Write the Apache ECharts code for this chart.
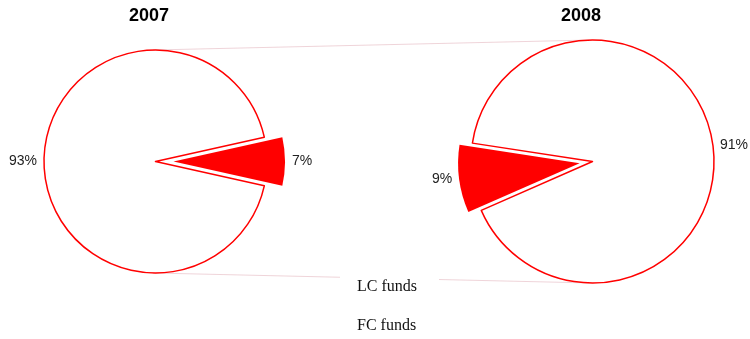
<!DOCTYPE html>
<html>
<head>
<meta charset="utf-8">
<script src="https://cdn.jsdelivr.net/npm/echarts@6/dist/echarts.min.js"></script>
<style>
  html, body { margin: 0; padding: 0; background: #fff; }
  #chart { width: 750px; height: 339px; }
</style>
</head>
<body>
<div id="chart"></div>
<script>
// Fund split by year
const years = ['2007', '2008'];
const categories = ['LC funds', 'FC funds'];
const share2007 = [93, 7];
const share2008 = [91, 9];

// Pie geometry (pixels)
const pieLayout = [
  { center: [155.5, 161.5], radius: 111.5, startAngle: 347.4, offset: 18, titleX: 149 },
  { center: [592.5, 161.5], radius: 121.5, startAngle: 171.3, offset: 13, titleX: 581 }
];
const shares = [share2007, share2008];
const sliceColors = ['#ffffff', '#ff0000'];
// Legend rows (top of each entry box)
const legendTops = [271, 310];

function buildData(values) {
  return categories.map((name, i) => ({
    name: name,
    value: values[i],
    selected: i === 1,
    itemStyle: i === 0
      ? { color: sliceColors[0], borderColor: '#ff0000', borderWidth: 1.5 }
      : { color: sliceColors[1], borderWidth: 0 }
  }));
}

// Common outer tangents joining the two pies
function tangentLines(a, b) {
  const [x1, y1] = a.center, [x2, y2] = b.center;
  const dx = x2 - x1, dy = y2 - y1;
  const d = Math.hypot(dx, dy);
  const ux = dx / d, uy = dy / d;
  const k = -(b.radius - a.radius) / d;
  const h = Math.sqrt(1 - k * k);
  const out = [];
  [-1, 1].forEach(s => {
    const nx = k * ux - s * h * uy;
    const ny = k * uy + s * h * ux;
    out.push({
      type: 'line',
      z: 0,
      silent: true,
      shape: {
        x1: x1 + a.radius * nx, y1: y1 + a.radius * ny,
        x2: x2 + b.radius * nx, y2: y2 + b.radius * ny
      },
      style: { stroke: 'rgba(205,120,135,0.4)', lineWidth: 0.8 }
    });
  });
  return out;
}

const chart = echarts.init(document.getElementById('chart'), null, { renderer: 'canvas' });

chart.setOption({
  backgroundColor: '#ffffff',
  animation: false,
  title: years.map((y, i) => ({
    text: y,
    left: pieLayout[i].titleX,
    top: 7,
    padding: 0,
    textAlign: 'center',
    textStyle: {
      fontFamily: 'Liberation Sans, Arial, sans-serif',
      fontSize: 18,
      fontWeight: 'bold',
      color: '#000'
    }
  })),
  legend: categories.map((name, i) => ({
    data: [name],
    left: 340,
    top: legendTops[i],
    padding: [8, 22, 8, 12],
    backgroundColor: i === 0 ? '#ffffff' : 'transparent',
    z: 5,
    itemWidth: 0,
    itemHeight: 0,
    icon: 'rect',
    itemStyle: { color: 'rgba(0,0,0,0)', borderWidth: 0 },
    selectedMode: false,
    textStyle: {
      fontFamily: 'Liberation Serif, Times New Roman, serif',
      fontSize: 16,
      lineHeight: 16,
      color: '#111'
    }
  })),
  graphic: tangentLines(pieLayout[0], pieLayout[1]),
  series: years.map((y, i) => ({
    type: 'pie',
    name: y,
    z: 2,
    center: pieLayout[i].center,
    radius: pieLayout[i].radius,
    startAngle: pieLayout[i].startAngle,
    clockwise: true,
    selectedMode: 'single',
    selectedOffset: pieLayout[i].offset,
    avoidLabelOverlap: false,
    emphasis: { disabled: true },
    label: {
      show: true,
      position: 'outside',
      formatter: '{c}%',
      distanceToLabelLine: 4,
      fontFamily: 'Liberation Sans, Arial, sans-serif',
      fontSize: 14,
      color: '#222'
    },
    labelLine: { show: false, length: 3, length2: 0 },
    data: buildData(shares[i])
  }))
});
</script>
</body>
</html>
